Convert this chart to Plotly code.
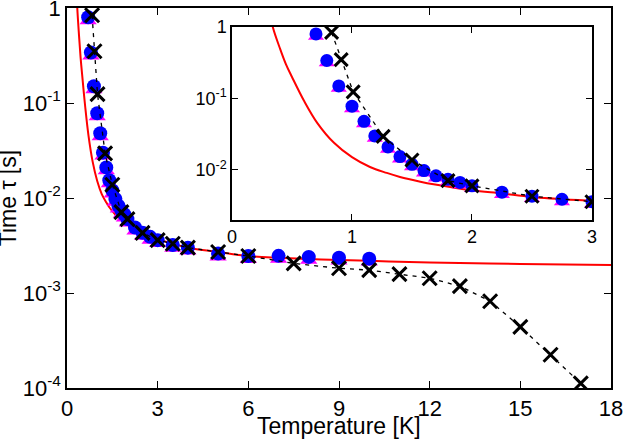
import plotly.graph_objects as go

# ---- data ----
T_circ = [0.70, 0.79, 0.89, 1.0, 1.1, 1.19, 1.3, 1.4, 1.5, 1.6, 1.7, 1.8, 1.9, 2.0,
          2.25, 2.5, 2.75, 3.0, 3.5, 4.0, 5.0, 6.0, 7.0, 8.0, 9.0, 10.0]
tau_circ = [0.80, 0.34, 0.15, 0.078, 0.048, 0.030, 0.021, 0.0154, 0.012, 0.0098, 0.0083,
            0.0074, 0.0067, 0.0060, 0.0049, 0.0043, 0.0039, 0.0036, 0.0032, 0.0030,
            0.0026, 0.00245, 0.00246, 0.0024, 0.00235, 0.0023]
T_tri = T_circ
tau_tri = [0.74, 0.315, 0.139, 0.072, 0.0445, 0.0278, 0.0195, 0.0142, 0.0111, 0.0091, 0.0077,
           0.0068, 0.0062, 0.0055, 0.00453, 0.00398, 0.00361, 0.00333, 0.00297, 0.00278,
           0.00241, 0.00227, 0.00228, 0.00222, 0.00218, 0.00213]
T_x = [0.83, 0.91, 1.01, 1.26, 1.5, 1.8, 2.0, 2.5, 3.0, 3.5, 4.0, 5.0, 6.0, 7.5, 9.0, 10.0,
       11.0, 12.0, 13.0, 14.0, 15.0, 16.0, 17.0]
tau_x = [0.84, 0.35, 0.124, 0.0295, 0.0138, 0.0071, 0.0060, 0.0043, 0.0036, 0.0033, 0.0030,
         0.0027, 0.00245, 0.00205, 0.00182, 0.00174, 0.00158, 0.00143, 0.00118, 0.00082,
         0.00044, 0.000224, 0.000112]
T_fit = [0.30, 0.34, 0.40, 0.45, 0.50, 0.60, 0.71, 0.85, 1.0, 1.15, 1.29, 1.4, 1.57, 1.68,
         2.0, 2.25, 2.5, 3.0, 4.0, 5.0, 6.0, 8.0, 10.0, 12.0, 15.0, 18.0]
tau_fit = [2.2, 1.0, 0.5, 0.30, 0.20, 0.093, 0.0457, 0.024, 0.0151, 0.011, 0.0091, 0.0080,
           0.00687, 0.00632, 0.0052, 0.0047, 0.0042, 0.0037, 0.0030, 0.0027, 0.00245, 0.00228,
           0.00218, 0.0021, 0.00202, 0.00197]

main_yticks = [1e-4, 1e-3, 1e-2, 1e-1, 1]
main_ylabels = ["10<sup>-4</sup>", "10<sup>-3</sup>", "10<sup>-2</sup>", "10<sup>-1</sup>", "1"]
inset_yticks = [1e-2, 1e-1, 1]
inset_ylabels = ["10<sup>-2</sup>", "10<sup>-1</sup>", "1"]

FONT = "Liberation Sans, Arial, sans-serif"

fig = go.Figure()


def add_set(xa, ya, msize):
    fig.add_trace(go.Scatter(x=T_fit, y=tau_fit, mode="lines",
                             line=dict(color="#ff0000", width=2, shape="spline", smoothing=1.0),
                             xaxis=xa, yaxis=ya, showlegend=False, hoverinfo="skip"))
    fig.add_trace(go.Scatter(x=T_tri, y=tau_tri, mode="markers",
                             marker=dict(symbol="triangle-up", size=msize + 1, color="#ff00ff", line=dict(width=0)),
                             xaxis=xa, yaxis=ya, showlegend=False, cliponaxis=True))
    fig.add_trace(go.Scatter(x=T_circ, y=tau_circ, mode="markers",
                             marker=dict(symbol="circle", size=msize, color="#0000ff", line=dict(width=0)),
                             xaxis=xa, yaxis=ya, showlegend=False, cliponaxis=True))
    fig.add_trace(go.Scatter(x=T_x, y=tau_x, mode="lines+markers",
                             line=dict(color="black", width=1.3, dash="4px,5px"),
                             marker=dict(symbol="x-thin", size=msize, color="black",
                                         line=dict(color="black", width=3)),
                             xaxis=xa, yaxis=ya, showlegend=False, cliponaxis=True))


add_set("x", "y", 14)
add_set("x2", "y2", 13)

axis_common = dict(showline=True, linecolor="black", linewidth=1.5, mirror="ticks",
                   ticks="inside", tickcolor="black", tickwidth=1.3, showgrid=False,
                   zeroline=False, automargin=False, ticklabeloverflow="allow")

fig.update_layout(
    width=623, height=439,
    margin=dict(l=67, r=12, t=8, b=51, autoexpand=False),
    paper_bgcolor="white", plot_bgcolor="white",
    font=dict(family=FONT, color="black", size=22),
    xaxis=dict(domain=[0, 1], range=[0, 18], tickvals=[0, 3, 6, 9, 12, 15, 18], ticklen=7,
               tickfont=dict(size=22), anchor="y", **axis_common),
    yaxis=dict(domain=[0, 1], type="log", range=[-4, 0], tickvals=main_yticks, ticktext=main_ylabels,
               ticklen=7, tickfont=dict(size=22), anchor="x", **axis_common),
    xaxis2=dict(domain=[0.3033, 0.965], range=[0, 3], tickvals=[0, 1, 2, 3], ticklen=6,
                tickfont=dict(size=18), anchor="y2", **axis_common),
    yaxis2=dict(domain=[0.442, 0.95], type="log", range=[-2.7, 0], tickvals=inset_yticks,
                ticktext=inset_ylabels, ticklen=6, tickfont=dict(size=18), anchor="x2", **axis_common),
    annotations=[
        dict(text="Temperature [K]", x=0.5, y=-0.1, xref="paper", yref="paper",
             xanchor="center", yanchor="middle", showarrow=False, font=dict(size=23)),
        dict(text="Time τ [s]", x=-0.108, y=0.5, xref="paper", yref="paper", textangle=-90,
             xanchor="center", yanchor="middle", showarrow=False, font=dict(size=23)),
    ],
)

fig.write_html("out.html")
